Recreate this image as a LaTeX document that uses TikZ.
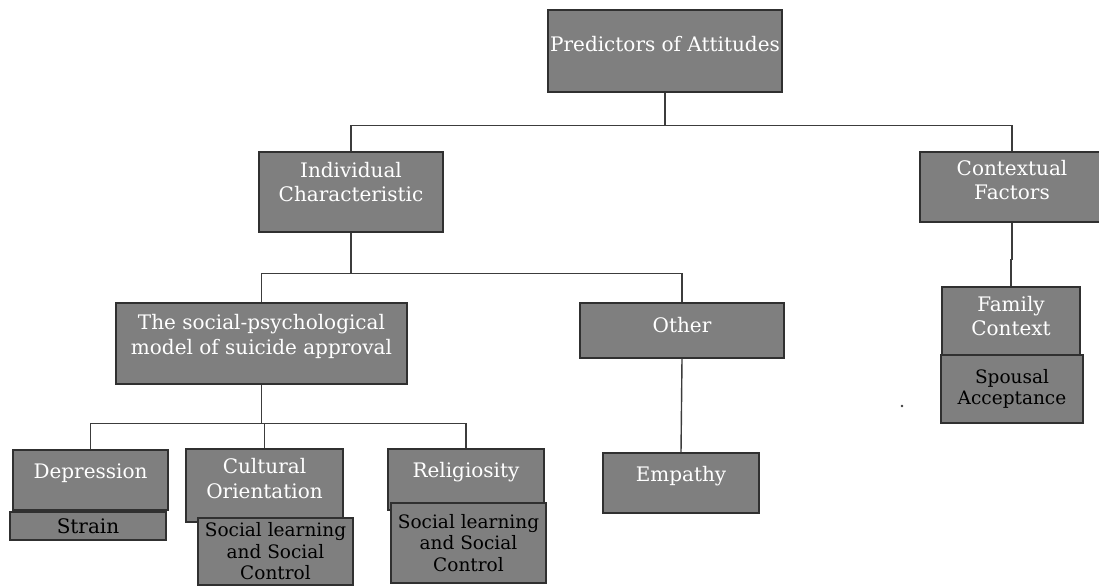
\documentclass[tikz,border=0pt]{standalone}
\usepackage{fontspec}
\setmainfont{DejaVu Serif}
\usepackage{xcolor}
\usepackage{tikz}
\definecolor{BoxGray}{RGB}{127,127,127}
\definecolor{EdgeGray}{RGB}{48,48,48}
\definecolor{LinkGray}{RGB}{60,60,60}

\begin{document}
\begin{tikzpicture}[x=1pt,y=-1pt,
  box/.style={draw=EdgeGray,fill=BoxGray,line width=1.4pt,inner sep=0pt},
  wtxt/.style={text=white,align=center,yshift=7pt,font=\fontsize{20}{24.5}\selectfont},
  btxt/.style={text=black,align=center,font=\fontsize{18.5}{21.5}\selectfont},
  link/.style={draw=LinkGray,line width=1.4pt}]
  \useasboundingbox (0,0) rectangle (1099,586);
  % upper levels
  \node[box,minimum width=234,minimum height=82,label={[wtxt]center:{Predictors of Attitudes}}] (top) at (665,51) {};
  \node[box,minimum width=184,minimum height=80,label={[wtxt,yshift=3pt]center:{Individual\\Characteristic}}] (ind) at (351,192) {};
  \node[box,minimum width=184,minimum height=70,label={[wtxt]center:{Contextual\\Factors}}] (ctx) at (1012,187) {};
  \node[box,minimum width=291,minimum height=81,label={[wtxt]center:{The social-psychological\\model of suicide approval}}] (soc) at (261.5,343.5) {};
  \node[box,minimum width=204,minimum height=55,label={[wtxt,yshift=-2pt]center:{Other}}] (oth) at (682,330.5) {};
  \node[box,minimum width=138,minimum height=68,label={[wtxt,yshift=-2pt]center:{Family\\Context}}] (fam) at (1011,321) {};
  % lowest level
  \node[box,minimum width=155,minimum height=60,label={[wtxt]center:{Depression}}] (dep) at (90.5,480) {};
  \node[box,minimum width=157,minimum height=73,label={[wtxt]center:{Cultural\\Orientation}}] (cul) at (264.5,485.5) {};
  \node[box,minimum width=156,minimum height=61,label={[wtxt]center:{Religiosity}}] (rel) at (466,479.5) {};
  \node[box,minimum width=156,minimum height=60,label={[wtxt]center:{Empathy}}] (emp) at (681,483) {};
  % connectors
  \draw[link] (top.south) -- ++(0,33) -| (ind.north);
  \draw[link] (top.south) -- ++(0,33) -| (ctx.north);
  \draw[link] (ind.south) -- ++(0,41) -| (soc.north);
  \draw[link] (ind.south) -- ++(0,41) -| (oth.north);
  \draw[link] (soc.south) -- ++(0,39) -| (dep.north);
  \draw[link] (soc.south) -- ++(0,39) -| (cul.north);
  \draw[link] (soc.south) -- ++(0,39) -| (rel.north);
  \draw[link] (oth.south) -- (emp.north);
  \draw[link] (ctx.south) -- ++(0,37) -| (fam.north);
  % theories under each factor
  \node[box,btxt,minimum width=156,minimum height=28,font=\fontsize{20}{23}\selectfont] (strain) at (88,526) {Strain};
  \node[box,btxt,minimum width=155,minimum height=67] (learn1) at (275.5,551.5) {Social learning\\and Social\\Control};
  \node[box,btxt,minimum width=155,minimum height=80] (learn2) at (468.5,543) {Social learning\\and Social\\Control};
  \node[box,btxt,minimum width=142,minimum height=68] (spouse) at (1012,389) {Spousal\\Acceptance};
  \fill[LinkGray] (902,406) circle (1.3pt);
\end{tikzpicture}
\end{document}
